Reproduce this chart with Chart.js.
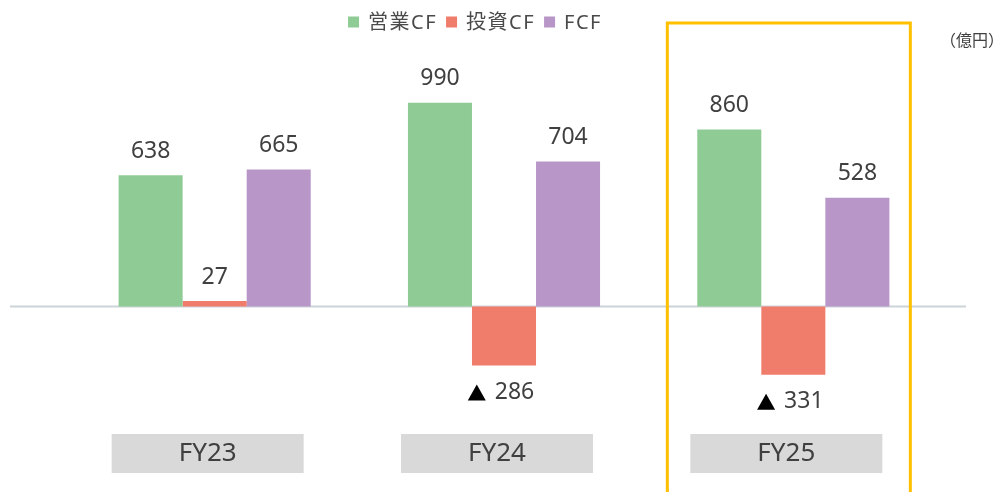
<!DOCTYPE html>
<html>
<head>
<meta charset="utf-8">
<script src="https://cdn.jsdelivr.net/npm/chart.js@4.4.1/dist/chart.umd.min.js"></script>
<style>
  html, body { margin: 0; padding: 0; background: #ffffff; }
  #wrap { position: relative; width: 1001px; height: 492px; }
</style>
</head>
<body>
<div id="wrap"><canvas id="c" width="1001" height="492"></canvas></div>
<script>
// ---- data ----
const categories = ['FY23', 'FY24', 'FY25'];
const seriesNames = ['営業CF', '投資CF', 'FCF'];
const operatingCF = [638, 990, 860];
const investingCF = [27, -286, -331];
const freeCF = [665, 704, 528];
const unitLabel = '（億円）';
const highlightCategory = 'FY25';

const colors = ['#8fcb94', '#f07c6b', '#b996c8'];
const textColor = '#404040';
const FONT = '"Noto Sans", "Noto Sans CJK JP", sans-serif';

const decorPlugin = {
  id: 'decor',
  beforeDatasetsDraw(chart) {
    const ctx = chart.ctx;
    const y = chart.scales.y.getPixelForValue(0);
    ctx.save();
    ctx.strokeStyle = '#cdd4d8';
    ctx.lineWidth = 2;
    ctx.beginPath();
    ctx.moveTo(10, y);
    ctx.lineTo(966, y);
    ctx.stroke();
    ctx.restore();
  },
  afterDatasetsDraw(chart) {
    const ctx = chart.ctx;
    const xs = chart.scales.x;
    ctx.save();
    // value labels
    ctx.font = '23px ' + FONT;
    ctx.fillStyle = textColor;
    ctx.textAlign = 'center';
    ctx.textBaseline = 'middle';
    chart.data.datasets.forEach((ds, di) => {
      const meta = chart.getDatasetMeta(di);
      meta.data.forEach((bar, i) => {
        const v = ds.data[i];
        if (v >= 0) {
          ctx.fillText(String(v), bar.x, bar.y - 24);
        } else {
          const s = String(Math.abs(v));
          const tw = ctx.measureText(s).width;
          const triW = 18, gap = 9;
          const total = triW + gap + tw;
          const x0 = bar.x - total / 2 - 3;
          const cy = bar.y + 27;
          ctx.fillStyle = '#000000';
          ctx.beginPath();
          ctx.moveTo(x0, cy + 8);
          ctx.lineTo(x0 + triW, cy + 8);
          ctx.lineTo(x0 + triW / 2, cy - 8);
          ctx.closePath();
          ctx.fill();
          ctx.fillStyle = textColor;
          ctx.textAlign = 'left';
          ctx.fillText(s, x0 + triW + gap, cy);
          ctx.textAlign = 'center';
        }
      });
    });
    // category boxes
    categories.forEach((c, i) => {
      const cx = xs.getPixelForValue(i) - 7;
      ctx.fillStyle = '#d9d9d9';
      ctx.fillRect(cx - 96, 434, 192, 39);
      ctx.fillStyle = textColor;
      ctx.font = '26px ' + FONT;
      ctx.fillText(c, cx, 454);
    });
    // highlight frame
    const hi = categories.indexOf(highlightCategory);
    const hx = xs.getPixelForValue(hi);
    ctx.strokeStyle = '#ffc000';
    ctx.lineWidth = 3;
    ctx.strokeRect(hx - 126, 23, 243, 480);
    // legend
    ctx.font = '20px ' + FONT;
    ctx.letterSpacing = '1.5px';
    ctx.textAlign = 'left';
    let widths = seriesNames.map(n => ctx.measureText(n).width);
    const box = 11, gapBox = 9, gapItem = 9;
    let total = 0;
    widths.forEach(w => total += box + gapBox + w);
    total += gapItem * (widths.length - 1);
    let lx = 475 - total / 2;
    const ly = 22;
    seriesNames.forEach((n, i) => {
      ctx.fillStyle = colors[i];
      ctx.fillRect(lx, ly - box / 2, box, box);
      lx += box + gapBox;
      ctx.fillStyle = '#4a4a4a';
      ctx.fillText(n, lx, ly + 1);
      lx += widths[i] + gapItem;
    });
    ctx.letterSpacing = '0px';
    // unit
    ctx.font = '16px ' + FONT;
    ctx.fillStyle = textColor;
    ctx.textAlign = 'right';
    ctx.fillText(unitLabel, 1004, 41);
    ctx.restore();
  }
};

new Chart(document.getElementById('c'), {
  type: 'bar',
  data: {
    labels: categories,
    datasets: [
      { label: seriesNames[0], data: operatingCF, backgroundColor: colors[0] },
      { label: seriesNames[1], data: investingCF, backgroundColor: colors[1] },
      { label: seriesNames[2], data: freeCF, backgroundColor: colors[2] }
    ]
  },
  options: {
    responsive: false,
    animation: false,
    devicePixelRatio: 1,
    layout: { padding: { left: 70, right: 63, top: 80, bottom: 103 } },
    datasets: { bar: { categoryPercentage: 0.664, barPercentage: 1.0, borderWidth: 0 } },
    plugins: { legend: { display: false }, tooltip: { enabled: false } },
    scales: {
      x: { display: false },
      y: { display: false, min: -400, max: 1100 }
    }
  },
  plugins: [decorPlugin]
});
</script>
</body>
</html>
